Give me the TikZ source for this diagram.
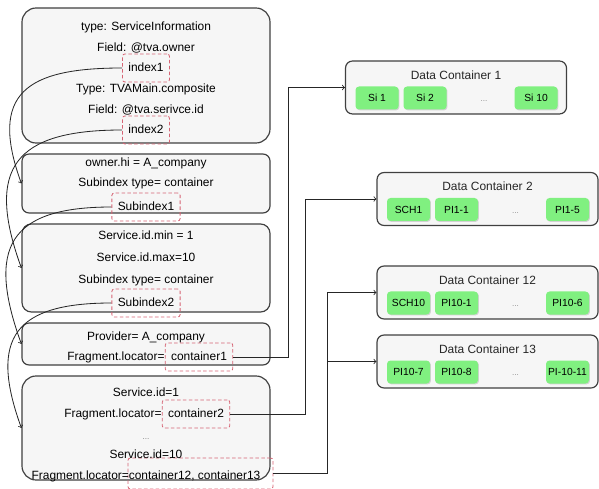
\documentclass[tikz,border=0pt]{standalone}
\usepackage{fontspec}
\setmainfont{Liberation Sans}
\usetikzlibrary{shadows}
\definecolor{linkred}{RGB}{214,100,116}
\definecolor{itemgreen}{RGB}{128,240,128}
\definecolor{boxgray}{RGB}{246,246,246}
\begin{document}
\begin{tikzpicture}[x=0.03cm,y=-0.03cm,
    every node/.style={inner sep=0pt,font=\fontsize{10.2}{12}\selectfont},
    txt/.style={text height=1.6ex,text depth=0.45ex},
    infobox/.style={draw=black!75,line width=1pt,fill=boxgray,minimum width=7.44cm},
    refbox/.style={txt,draw=linkred,dash pattern=on 3pt off 2pt,line width=0.7pt,rounded corners=2pt,inner xsep=5pt,minimum height=0.84cm},
    dcbox/.style={draw=black!75,line width=1pt,fill=boxgray,rounded corners=6pt,minimum width=6.63cm,minimum height=1.59cm},
    dataitem/.style={txt,fill=itemgreen,rounded corners=3pt,minimum width=1.29cm,minimum height=0.69cm,font=\fontsize{8.8}{10}\selectfont,drop shadow={opacity=0.3,shadow xshift=0.8pt,shadow yshift=-0.8pt}},
    linkline/.style={->,line width=0.7pt,black!85}]
  \useasboundingbox (0,0) rectangle (599,489);
  \def \Boxes{
    sinfo/75.5/135/12,
    owner/183.5/59/6,
    srange/268/88/8,
    provider/344/42/6,
    sids/428/104/12}
  \def \Lines{
    27/{type: ServiceInformation},
    48/{Field: @tva.owner},
    89/{Type: TVAMain.composite},
    110/{Field: @tva.serivce.id},
    163/{owner.hi = A\_company},
    183/{Subindex type= container},
    236/{Service.id.min = 1},
    258/{Service.id.max=10},
    280/{Subindex type= container},
    337/{Provider= A\_company},
    393/{Service.id=1},
    455/{Service.id=10},
    476/{Fragment.locator=container12, container13}}
  \def \Refs{
    index1/146/68,
    index2/146/130,
    Subindex1/146/207,
    Subindex2/146/303,
    container1/199/357,
    container2/196/414}
  \def \Containers{
    dc1/456/87.5/1/Si 1/Si 2/Si 10,
    dc2/487.5/199/2/SCH1/PI1-1/PI1-5,
    dc12/487.5/292.5/12/SCH10/PI10-1/PI10-6,
    dc13/487.5/361.5/13/PI10-7/PI10-8/PI-10-11}
  \def \Links{
    index1/owner,
    index2/srange,
    Subindex1/provider,
    Subindex2/sids}
  \foreach \id / \y / \h / \r in \Boxes{
    \node[infobox,minimum height=\h*0.03cm,rounded corners=\r pt] (\id) at (146,\y) {};
  }
  \node[refbox,minimum width=4.35cm,minimum height=0.93cm] (cont1213) at (200.5,473.5) {};
  \foreach \y / \t [count=\i] in \Lines{
    \node[txt] (line\i) at (146,\y) {\t};
  }
  \node[txt,font=\scriptsize,text=black!50] (sdots) at (146,436) {...};
  \foreach \t / \x / \y in \Refs{
    \node[refbox] (\t) at (\x,\y) {\t};
  }
  \node[txt,anchor=east] (loc1) at (container1.west) {Fragment.locator=};
  \node[txt,anchor=east] (loc2) at (container2.west) {Fragment.locator=};
  \foreach \id / \x / \y / \n / \a / \b / \last in \Containers{
    \node[dcbox] (\id) at (\x,\y) {};
    \node[txt,text=black!85] (\id-title) at (\x,\y-12) {Data Container \n};
    \node[dataitem] (\id-a) at (\x-79,\y+10.5) {\a};
    \node[dataitem] (\id-b) at (\x-31,\y+10.5) {\b};
    \node[txt,font=\scriptsize,text=black!45] (\id-c) at (\x+28,\y+10.5) {...};
    \node[dataitem] (\id-d) at (\x+80,\y+10.5) {\last};
  }
  \foreach \x / \y in \Links{
    \path[draw,linkline] (\x.west) to[out=180,in=110,looseness=1.6] (\y.west);
  }
  \coordinate (bus1) at (288,0);
  \coordinate (bus2) at (305,0);
  \coordinate (bus3) at (327,0);
  \path[draw,linkline] (container1.east) -- (container1.east -| bus1) |- (dc1.west);
  \path[draw,linkline] (container2.east) -- (container2.east -| bus2) |- (dc2.west);
  \path[draw,linkline] (cont1213.east) -- (cont1213.east -| bus3) |- (dc12.west);
  \path[draw,linkline] (dc13.west -| bus3) -- (dc13.west);
\end{tikzpicture}
\end{document}
